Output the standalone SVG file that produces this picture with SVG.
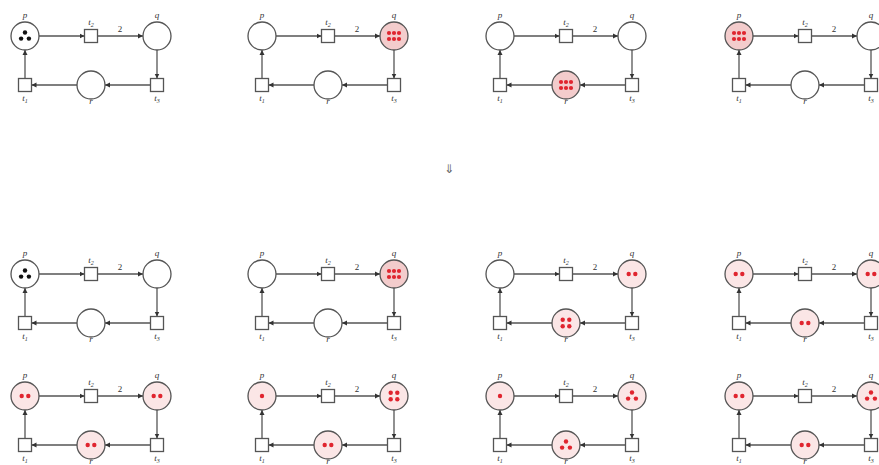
<svg xmlns="http://www.w3.org/2000/svg" xmlns:xlink="http://www.w3.org/1999/xlink" width="879" height="465" viewBox="0 0 879 465">
<style>
.pl{fill:#fff;stroke:#555;stroke-width:1.3}
.pk{fill:#fbe6e6}
.pg{fill:#f3cccc}
.tr{fill:#fff;stroke:#555;stroke-width:1.3}
.c{fill:none;stroke:#555;stroke-width:1.3;marker-end:url(#ah)}
.lb{font-family:"Liberation Serif",serif;font-style:italic;font-size:9px;fill:#333;text-anchor:middle}
.w{font-family:"Liberation Serif",serif;font-size:9px;fill:#333;text-anchor:middle}
.bk{fill:#111}
.rd{fill:#e0252f}
</style>
<defs>
<marker id="ah" markerWidth="6" markerHeight="6" refX="5" refY="3" orient="auto" markerUnits="userSpaceOnUse">
<path d="M0,0.5 L5,3 L0,5.5 z" fill="#333"/>
</marker>
<g id="kb3" class="bk"><circle cx="0" cy="-3.5" r="2.2"/><circle cx="-3.9" cy="2.6" r="2.2"/><circle cx="3.9" cy="2.6" r="2.2"/></g>
<g id="kr3" class="rd"><circle cx="0" cy="-3.5" r="2.2"/><circle cx="-3.9" cy="2.6" r="2.2"/><circle cx="3.9" cy="2.6" r="2.2"/></g>
<g id="kr1" class="rd"><circle cx="0" cy="0" r="2.2"/></g>
<g id="kr2" class="rd"><circle cx="-3.3" cy="0" r="2.2"/><circle cx="3.3" cy="0" r="2.2"/></g>
<g id="kr4" class="rd"><circle cx="-3.3" cy="-3.3" r="2.2"/><circle cx="3.3" cy="-3.3" r="2.2"/><circle cx="-3.3" cy="3.3" r="2.2"/><circle cx="3.3" cy="3.3" r="2.2"/></g>
<g id="kr6" class="rd"><circle cx="-5" cy="-3" r="2.1"/><circle cx="0" cy="-3" r="2.1"/><circle cx="5" cy="-3" r="2.1"/><circle cx="-5" cy="3" r="2.1"/><circle cx="0" cy="3" r="2.1"/><circle cx="5" cy="3" r="2.1"/></g>
<g id="arcs">
<path class="c" d="M39,0 H84.5"/>
<path class="c" d="M97.5,0 H143"/>
<path class="c" d="M157,14 V42.5"/>
<path class="c" d="M150.5,49 H105"/>
<path class="c" d="M77,49 H31.5"/>
<path class="c" d="M25,42.5 V14"/>
</g>
</defs>

<!-- Panel A1 -->
<g id="panelA1" transform="translate(0,36)">
<g id="A1-connectors"><use href="#arcs"/><text class="w" x="120" y="-4">2</text></g>
<g id="A1-p"><circle class="pl" cx="25" cy="0" r="14"/><use href="#kb3" x="25" y="0"/><text class="lb" x="25" y="-18">p</text></g>
<g id="A1-t2"><rect class="tr" x="84.5" y="-6.5" width="13" height="13"/><text class="lb" x="91" y="-11">t<tspan font-size="6" dy="1.5">2</tspan></text></g>
<g id="A1-q"><circle class="pl" cx="157" cy="0" r="14"/><text class="lb" x="157" y="-18">q</text></g>
<g id="A1-t1"><rect class="tr" x="18.5" y="42.5" width="13" height="13"/><text class="lb" x="25" y="65">t<tspan font-size="6" dy="1.5">1</tspan></text></g>
<g id="A1-r"><circle class="pl" cx="91" cy="49" r="14"/><text class="lb" x="91" y="68">r</text></g>
<g id="A1-t3"><rect class="tr" x="150.5" y="42.5" width="13" height="13"/><text class="lb" x="157" y="65">t<tspan font-size="6" dy="1.5">3</tspan></text></g>
</g>

<!-- Panel A2 -->
<g id="panelA2" transform="translate(237,36)">
<g id="A2-connectors"><use href="#arcs"/><text class="w" x="120" y="-4">2</text></g>
<g id="A2-p"><circle class="pl" cx="25" cy="0" r="14"/><text class="lb" x="25" y="-18">p</text></g>
<g id="A2-t2"><rect class="tr" x="84.5" y="-6.5" width="13" height="13"/><text class="lb" x="91" y="-11">t<tspan font-size="6" dy="1.5">2</tspan></text></g>
<g id="A2-q"><circle class="pl pg" cx="157" cy="0" r="14"/><use href="#kr6" x="157" y="0"/><text class="lb" x="157" y="-18">q</text></g>
<g id="A2-t1"><rect class="tr" x="18.5" y="42.5" width="13" height="13"/><text class="lb" x="25" y="65">t<tspan font-size="6" dy="1.5">1</tspan></text></g>
<g id="A2-r"><circle class="pl" cx="91" cy="49" r="14"/><text class="lb" x="91" y="68">r</text></g>
<g id="A2-t3"><rect class="tr" x="150.5" y="42.5" width="13" height="13"/><text class="lb" x="157" y="65">t<tspan font-size="6" dy="1.5">3</tspan></text></g>
</g>

<!-- Panel A3 -->
<g id="panelA3" transform="translate(475,36)">
<g id="A3-connectors"><use href="#arcs"/><text class="w" x="120" y="-4">2</text></g>
<g id="A3-p"><circle class="pl" cx="25" cy="0" r="14"/><text class="lb" x="25" y="-18">p</text></g>
<g id="A3-t2"><rect class="tr" x="84.5" y="-6.5" width="13" height="13"/><text class="lb" x="91" y="-11">t<tspan font-size="6" dy="1.5">2</tspan></text></g>
<g id="A3-q"><circle class="pl" cx="157" cy="0" r="14"/><text class="lb" x="157" y="-18">q</text></g>
<g id="A3-t1"><rect class="tr" x="18.5" y="42.5" width="13" height="13"/><text class="lb" x="25" y="65">t<tspan font-size="6" dy="1.5">1</tspan></text></g>
<g id="A3-r"><circle class="pl pg" cx="91" cy="49" r="14"/><use href="#kr6" x="91" y="49"/><text class="lb" x="91" y="68">r</text></g>
<g id="A3-t3"><rect class="tr" x="150.5" y="42.5" width="13" height="13"/><text class="lb" x="157" y="65">t<tspan font-size="6" dy="1.5">3</tspan></text></g>
</g>

<!-- Panel A4 -->
<g id="panelA4" transform="translate(714,36)">
<g id="A4-connectors"><use href="#arcs"/><text class="w" x="120" y="-4">2</text></g>
<g id="A4-p"><circle class="pl pg" cx="25" cy="0" r="14"/><use href="#kr6" x="25" y="0"/><text class="lb" x="25" y="-18">p</text></g>
<g id="A4-t2"><rect class="tr" x="84.5" y="-6.5" width="13" height="13"/><text class="lb" x="91" y="-11">t<tspan font-size="6" dy="1.5">2</tspan></text></g>
<g id="A4-q"><circle class="pl" cx="157" cy="0" r="14"/><text class="lb" x="157" y="-18">q</text></g>
<g id="A4-t1"><rect class="tr" x="18.5" y="42.5" width="13" height="13"/><text class="lb" x="25" y="65">t<tspan font-size="6" dy="1.5">1</tspan></text></g>
<g id="A4-r"><circle class="pl" cx="91" cy="49" r="14"/><text class="lb" x="91" y="68">r</text></g>
<g id="A4-t3"><rect class="tr" x="150.5" y="42.5" width="13" height="13"/><text class="lb" x="157" y="65">t<tspan font-size="6" dy="1.5">3</tspan></text></g>
</g>

<text x="449" y="173" font-family="DejaVu Sans, sans-serif" font-size="12" fill="#666" text-anchor="middle">⇓</text>

<!-- Panel B1 -->
<g id="panelB1" transform="translate(0,274)">
<g id="B1-connectors"><use href="#arcs"/><text class="w" x="120" y="-4">2</text></g>
<g id="B1-p"><circle class="pl" cx="25" cy="0" r="14"/><use href="#kb3" x="25" y="0"/><text class="lb" x="25" y="-18">p</text></g>
<g id="B1-t2"><rect class="tr" x="84.5" y="-6.5" width="13" height="13"/><text class="lb" x="91" y="-11">t<tspan font-size="6" dy="1.5">2</tspan></text></g>
<g id="B1-q"><circle class="pl" cx="157" cy="0" r="14"/><text class="lb" x="157" y="-18">q</text></g>
<g id="B1-t1"><rect class="tr" x="18.5" y="42.5" width="13" height="13"/><text class="lb" x="25" y="65">t<tspan font-size="6" dy="1.5">1</tspan></text></g>
<g id="B1-r"><circle class="pl" cx="91" cy="49" r="14"/><text class="lb" x="91" y="68">r</text></g>
<g id="B1-t3"><rect class="tr" x="150.5" y="42.5" width="13" height="13"/><text class="lb" x="157" y="65">t<tspan font-size="6" dy="1.5">3</tspan></text></g>
</g>

<!-- Panel B2 -->
<g id="panelB2" transform="translate(237,274)">
<g id="B2-connectors"><use href="#arcs"/><text class="w" x="120" y="-4">2</text></g>
<g id="B2-p"><circle class="pl" cx="25" cy="0" r="14"/><text class="lb" x="25" y="-18">p</text></g>
<g id="B2-t2"><rect class="tr" x="84.5" y="-6.5" width="13" height="13"/><text class="lb" x="91" y="-11">t<tspan font-size="6" dy="1.5">2</tspan></text></g>
<g id="B2-q"><circle class="pl pg" cx="157" cy="0" r="14"/><use href="#kr6" x="157" y="0"/><text class="lb" x="157" y="-18">q</text></g>
<g id="B2-t1"><rect class="tr" x="18.5" y="42.5" width="13" height="13"/><text class="lb" x="25" y="65">t<tspan font-size="6" dy="1.5">1</tspan></text></g>
<g id="B2-r"><circle class="pl" cx="91" cy="49" r="14"/><text class="lb" x="91" y="68">r</text></g>
<g id="B2-t3"><rect class="tr" x="150.5" y="42.5" width="13" height="13"/><text class="lb" x="157" y="65">t<tspan font-size="6" dy="1.5">3</tspan></text></g>
</g>

<!-- Panel B3 -->
<g id="panelB3" transform="translate(475,274)">
<g id="B3-connectors"><use href="#arcs"/><text class="w" x="120" y="-4">2</text></g>
<g id="B3-p"><circle class="pl" cx="25" cy="0" r="14"/><text class="lb" x="25" y="-18">p</text></g>
<g id="B3-t2"><rect class="tr" x="84.5" y="-6.5" width="13" height="13"/><text class="lb" x="91" y="-11">t<tspan font-size="6" dy="1.5">2</tspan></text></g>
<g id="B3-q"><circle class="pl pk" cx="157" cy="0" r="14"/><use href="#kr2" x="157" y="0"/><text class="lb" x="157" y="-18">q</text></g>
<g id="B3-t1"><rect class="tr" x="18.5" y="42.5" width="13" height="13"/><text class="lb" x="25" y="65">t<tspan font-size="6" dy="1.5">1</tspan></text></g>
<g id="B3-r"><circle class="pl pk" cx="91" cy="49" r="14"/><use href="#kr4" x="91" y="49"/><text class="lb" x="91" y="68">r</text></g>
<g id="B3-t3"><rect class="tr" x="150.5" y="42.5" width="13" height="13"/><text class="lb" x="157" y="65">t<tspan font-size="6" dy="1.5">3</tspan></text></g>
</g>

<!-- Panel B4 -->
<g id="panelB4" transform="translate(714,274)">
<g id="B4-connectors"><use href="#arcs"/><text class="w" x="120" y="-4">2</text></g>
<g id="B4-p"><circle class="pl pk" cx="25" cy="0" r="14"/><use href="#kr2" x="25" y="0"/><text class="lb" x="25" y="-18">p</text></g>
<g id="B4-t2"><rect class="tr" x="84.5" y="-6.5" width="13" height="13"/><text class="lb" x="91" y="-11">t<tspan font-size="6" dy="1.5">2</tspan></text></g>
<g id="B4-q"><circle class="pl pk" cx="157" cy="0" r="14"/><use href="#kr2" x="157" y="0"/><text class="lb" x="157" y="-18">q</text></g>
<g id="B4-t1"><rect class="tr" x="18.5" y="42.5" width="13" height="13"/><text class="lb" x="25" y="65">t<tspan font-size="6" dy="1.5">1</tspan></text></g>
<g id="B4-r"><circle class="pl pk" cx="91" cy="49" r="14"/><use href="#kr2" x="91" y="49"/><text class="lb" x="91" y="68">r</text></g>
<g id="B4-t3"><rect class="tr" x="150.5" y="42.5" width="13" height="13"/><text class="lb" x="157" y="65">t<tspan font-size="6" dy="1.5">3</tspan></text></g>
</g>

<!-- Panel C1 -->
<g id="panelC1" transform="translate(0,396)">
<g id="C1-connectors"><use href="#arcs"/><text class="w" x="120" y="-4">2</text></g>
<g id="C1-p"><circle class="pl pk" cx="25" cy="0" r="14"/><use href="#kr2" x="25" y="0"/><text class="lb" x="25" y="-18">p</text></g>
<g id="C1-t2"><rect class="tr" x="84.5" y="-6.5" width="13" height="13"/><text class="lb" x="91" y="-11">t<tspan font-size="6" dy="1.5">2</tspan></text></g>
<g id="C1-q"><circle class="pl pk" cx="157" cy="0" r="14"/><use href="#kr2" x="157" y="0"/><text class="lb" x="157" y="-18">q</text></g>
<g id="C1-t1"><rect class="tr" x="18.5" y="42.5" width="13" height="13"/><text class="lb" x="25" y="65">t<tspan font-size="6" dy="1.5">1</tspan></text></g>
<g id="C1-r"><circle class="pl pk" cx="91" cy="49" r="14"/><use href="#kr2" x="91" y="49"/><text class="lb" x="91" y="67.5">r</text></g>
<g id="C1-t3"><rect class="tr" x="150.5" y="42.5" width="13" height="13"/><text class="lb" x="157" y="65">t<tspan font-size="6" dy="1.5">3</tspan></text></g>
</g>

<!-- Panel C2 -->
<g id="panelC2" transform="translate(237,396)">
<g id="C2-connectors"><use href="#arcs"/><text class="w" x="120" y="-4">2</text></g>
<g id="C2-p"><circle class="pl pk" cx="25" cy="0" r="14"/><use href="#kr1" x="25" y="0"/><text class="lb" x="25" y="-18">p</text></g>
<g id="C2-t2"><rect class="tr" x="84.5" y="-6.5" width="13" height="13"/><text class="lb" x="91" y="-11">t<tspan font-size="6" dy="1.5">2</tspan></text></g>
<g id="C2-q"><circle class="pl pk" cx="157" cy="0" r="14"/><use href="#kr4" x="157" y="0"/><text class="lb" x="157" y="-18">q</text></g>
<g id="C2-t1"><rect class="tr" x="18.5" y="42.5" width="13" height="13"/><text class="lb" x="25" y="65">t<tspan font-size="6" dy="1.5">1</tspan></text></g>
<g id="C2-r"><circle class="pl pk" cx="91" cy="49" r="14"/><use href="#kr2" x="91" y="49"/><text class="lb" x="91" y="67.5">r</text></g>
<g id="C2-t3"><rect class="tr" x="150.5" y="42.5" width="13" height="13"/><text class="lb" x="157" y="65">t<tspan font-size="6" dy="1.5">3</tspan></text></g>
</g>

<!-- Panel C3 -->
<g id="panelC3" transform="translate(475,396)">
<g id="C3-connectors"><use href="#arcs"/><text class="w" x="120" y="-4">2</text></g>
<g id="C3-p"><circle class="pl pk" cx="25" cy="0" r="14"/><use href="#kr1" x="25" y="0"/><text class="lb" x="25" y="-18">p</text></g>
<g id="C3-t2"><rect class="tr" x="84.5" y="-6.5" width="13" height="13"/><text class="lb" x="91" y="-11">t<tspan font-size="6" dy="1.5">2</tspan></text></g>
<g id="C3-q"><circle class="pl pk" cx="157" cy="0" r="14"/><use href="#kr3" x="157" y="0"/><text class="lb" x="157" y="-18">q</text></g>
<g id="C3-t1"><rect class="tr" x="18.5" y="42.5" width="13" height="13"/><text class="lb" x="25" y="65">t<tspan font-size="6" dy="1.5">1</tspan></text></g>
<g id="C3-r"><circle class="pl pk" cx="91" cy="49" r="14"/><use href="#kr3" x="91" y="49"/><text class="lb" x="91" y="67.5">r</text></g>
<g id="C3-t3"><rect class="tr" x="150.5" y="42.5" width="13" height="13"/><text class="lb" x="157" y="65">t<tspan font-size="6" dy="1.5">3</tspan></text></g>
</g>

<!-- Panel C4 -->
<g id="panelC4" transform="translate(714,396)">
<g id="C4-connectors"><use href="#arcs"/><text class="w" x="120" y="-4">2</text></g>
<g id="C4-p"><circle class="pl pk" cx="25" cy="0" r="14"/><use href="#kr2" x="25" y="0"/><text class="lb" x="25" y="-18">p</text></g>
<g id="C4-t2"><rect class="tr" x="84.5" y="-6.5" width="13" height="13"/><text class="lb" x="91" y="-11">t<tspan font-size="6" dy="1.5">2</tspan></text></g>
<g id="C4-q"><circle class="pl pk" cx="157" cy="0" r="14"/><use href="#kr3" x="157" y="0"/><text class="lb" x="157" y="-18">q</text></g>
<g id="C4-t1"><rect class="tr" x="18.5" y="42.5" width="13" height="13"/><text class="lb" x="25" y="65">t<tspan font-size="6" dy="1.5">1</tspan></text></g>
<g id="C4-r"><circle class="pl pk" cx="91" cy="49" r="14"/><use href="#kr2" x="91" y="49"/><text class="lb" x="91" y="67.5">r</text></g>
<g id="C4-t3"><rect class="tr" x="150.5" y="42.5" width="13" height="13"/><text class="lb" x="157" y="65">t<tspan font-size="6" dy="1.5">3</tspan></text></g>
</g>
</svg>
